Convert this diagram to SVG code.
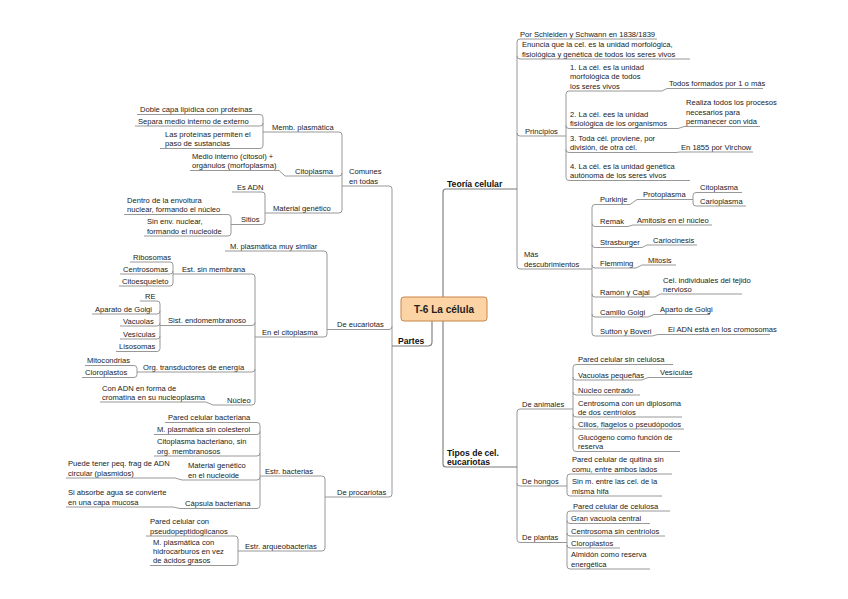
<svg xmlns="http://www.w3.org/2000/svg" width="848" height="599" viewBox="0 0 848 599">
<style>
.t{font-family:"Liberation Sans",Arial,sans-serif;font-size:7.6px;fill:#222}
.m{font-weight:bold;font-size:8.6px;fill:#111}
.u{fill:none;stroke:#8c8c8c;stroke-width:0.9}
.mu{fill:none;stroke:#7a7a7a;stroke-width:1.1}
</style>
<rect width="848" height="599" fill="#fff"/>
<g id="connectors" class="u">
<path class="mu" d="M443,297 V192 Q443,189 446,189"/>
<path class="mu" d="M443,321 V464 Q443,467 446,467"/>
<path class="mu" d="M428,346 Q432,346 432,342 V321"/>
<path d="M520,39 Q517,39 517,42 V266 Q517,269 520,269 M517,56 Q517,59 520,59 M517,133 Q517,136 520,136"/>
<path d="M569,91 Q566,91 566,94 V177.5 Q566,180.5 569,180.5 M566,125.5 Q566,128.5 569,128.5 M566,149.5 Q566,152.5 569,152.5"/>
<path d="M662,91 L667,88.5 M678,128.5 L684,126.5 M676,152.5 L680,152"/>
<path d="M595,204.5 Q592,204.5 592,207.5 V333 Q592,336 595,336 M592,223.5 Q592,226.5 595,226.5 M592,244.5 Q592,247.5 595,247.5 M592,265 Q592,268 595,268 M592,294 Q592,297 595,297 M592,314 Q592,317 595,317"/>
<path d="M630,204.5 L637,199.5 M628,226.5 L633,225 M642,247.5 L647,245 M636,268 L642,265 M655,297 L660,294 M648,317 L654,314.5 M652,336 L658,334.5"/>
<path d="M696,192.5 Q693,192.5 693,195.5 V203 Q693,206 696,206"/>
<path d="M520,409 Q517,409 517,412 V539.5 Q517,542.5 520,542.5 M517,483 Q517,486 520,486"/>
<path d="M576,364.5 Q573,364.5 573,367.5 V448.5 Q573,451.5 576,451.5 M573,377 Q573,380 576,380 M573,392 Q573,395 576,395 M573,414 Q573,417 576,417 M573,426 Q573,429 576,429"/>
<path d="M642,380 L648,377.5"/>
<path d="M570,474 Q567,474 567,477 V493 Q567,496 570,496"/>
<path d="M570,511 Q567,511 567,514 V566 Q567,569 570,569 M567,520.5 Q567,523.5 570,523.5 M567,533 Q567,536 570,536 M567,545 Q567,548 570,548"/>
<path d="M389,186 Q392,186 392,189 V494 Q392,497 389,497 M392,326.5 Q392,329.5 389,329.5"/>
<path d="M339,132 Q342,132 342,135 V210 Q342,213 339,213 M342,173 Q342,176 339,176"/>
<path d="M260,114.5 Q263,114.5 263,117.5 V145.5 Q263,148.5 260,148.5 M263,123 Q263,126 260,126"/>
<path d="M279,170.5 L285,176"/>
<path d="M262,192 Q265,192 265,195 V221.5 Q265,224.5 262,224.5"/>
<path d="M228,214.5 Q231,214.5 231,217.5 V233 Q231,236 228,236"/>
<path d="M324,251 Q327,251 327,254 V334 Q327,337 324,337"/>
<path d="M252,274 Q255,274 255,277 V402 Q255,405 252,405 M255,322.5 Q255,325.5 252,325.5 M255,369 Q255,372 252,372"/>
<path d="M206,402 L213,405"/>
<path d="M170,262 Q173,262 173,265 V283 Q173,286 170,286 M173,271 Q173,274 170,274"/>
<path d="M157,301 Q160,301 160,304 V348.5 Q160,351.5 157,351.5 M160,311 Q160,314 157,314 M160,323 Q160,326 157,326 M160,336 Q160,339 157,339"/>
<path d="M134,365.5 Q137,365.5 137,368.5 V374.5 Q137,377.5 134,377.5"/>
<path d="M322,476 Q325,476 325,479 V548 Q325,551 322,551"/>
<path d="M257,422.5 Q260,422.5 260,425.5 V505.5 Q260,508.5 257,508.5 M260,431.5 Q260,434.5 257,434.5 M260,453 Q260,456 257,456 M260,477 Q260,480 257,480"/>
<path d="M175,478 L182,480 M173,507 L180,508.5"/>
<path d="M235,536 Q238,536 238,539 V562.5 Q238,565.5 235,565.5"/>
</g>
<g id="center">
<rect x="401" y="297" width="86" height="24" rx="3" fill="#fcd3a4" stroke="#c88547" stroke-width="1"/>
<text class="t" x="444" y="313" text-anchor="middle" style="font-weight:bold;font-size:10px;fill:#222">T-6 La célula</text>
</g>
<g id="teoria"><text class="t m" x="447" y="186.5">Teoría celular</text><path class="mu" d="M446,189 H517"/></g>
<g id="schleiden"><text class="t" x="520" y="36.5">Por Schleiden y Schwann en 1838/1839</text><path class="u" d="M520,39 H657"/></g>
<g id="enuncia"><text class="t"><tspan x="522" y="47.3">Enuncia que la cel. es la unidad morfológica,</tspan><tspan x="522" y="56.5">fisiológica y genética de todos los seres vivos</tspan></text><path class="u" d="M520,59 H690"/></g>
<g id="principios"><text class="t" x="525" y="133.5">Principios</text><path class="u" d="M520,136 H566"/></g>
<g id="p1"><text class="t"><tspan x="570" y="70">1. La cél. es la unidad</tspan><tspan x="570" y="79.3">morfológica de todos</tspan><tspan x="570" y="88.5">los seres vivos</tspan></text><path class="u" d="M569,91 H662"/></g>
<g id="todos"><text class="t" x="669" y="86">Todos formados por 1 o más</text><path class="u" d="M667,88.5 H763"/></g>
<g id="p2"><text class="t"><tspan x="570" y="116.8">2. La cél. ees la unidad</tspan><tspan x="570" y="126">fisiológica de los organismos</tspan></text><path class="u" d="M569,128.5 H678"/></g>
<g id="realiza"><text class="t"><tspan x="686" y="105">Realiza todos los procesos</tspan><tspan x="686" y="114.5">necesarios para</tspan><tspan x="686" y="124">permanecer con vida</tspan></text><path class="u" d="M684,126.5 H760"/></g>
<g id="p3"><text class="t"><tspan x="570" y="140.8">3. Toda cél. proviene, por</tspan><tspan x="570" y="150">división, de otra cél.</tspan></text><path class="u" d="M569,152.5 H676"/></g>
<g id="virchow"><text class="t" x="681" y="149.5">En 1855 por Virchow</text><path class="u" d="M680,152 H753"/></g>
<g id="p4"><text class="t"><tspan x="570" y="168.8">4. La cél. es la unidad genética</tspan><tspan x="570" y="178">autónoma de los seres vivos</tspan></text><path class="u" d="M569,180.5 H690"/></g>
<g id="mas"><text class="t"><tspan x="524" y="257.3">Más</tspan><tspan x="524" y="266.5">descubrimientos</tspan></text><path class="u" d="M520,269 H592"/></g>
<g id="purkinje"><text class="t" x="600" y="202">Purkinje</text><path class="u" d="M595,204.5 H630"/></g>
<g id="protoplasma"><text class="t" x="643" y="197">Protoplasma</text><path class="u" d="M637,199.5 H693"/></g>
<g id="citoplasma-r"><text class="t" x="700" y="190">Citoplasma</text><path class="u" d="M696,192.5 H742"/></g>
<g id="carioplasma"><text class="t" x="700" y="203.5">Carioplasma</text><path class="u" d="M696,206 H746"/></g>
<g id="remak"><text class="t" x="600" y="224">Remak</text><path class="u" d="M595,226.5 H628"/></g>
<g id="amitosis"><text class="t" x="637" y="222.5">Amitosis en el núcleo</text><path class="u" d="M633,225 H712"/></g>
<g id="strasburger"><text class="t" x="600" y="245">Strasburger</text><path class="u" d="M595,247.5 H642"/></g>
<g id="cariocinesis"><text class="t" x="653" y="242.5">Cariocinesis</text><path class="u" d="M647,245 H697"/></g>
<g id="flemming"><text class="t" x="600" y="265.5">Flemming</text><path class="u" d="M595,268 H636"/></g>
<g id="mitosis"><text class="t" x="648" y="262.5">Mitosis</text><path class="u" d="M642,265 H676"/></g>
<g id="ramon"><text class="t" x="600" y="294.5">Ramón y Cajal</text><path class="u" d="M595,297 H655"/></g>
<g id="celind"><text class="t"><tspan x="663" y="282.8">Cel. individuales del tejido</tspan><tspan x="663" y="291.5">nervioso</tspan></text><path class="u" d="M660,294 H742"/></g>
<g id="camillo"><text class="t" x="600" y="314.5">Camillo Golgi</text><path class="u" d="M595,317 H648"/></g>
<g id="aparto"><text class="t" x="660" y="312">Aparto de Golgi</text><path class="u" d="M654,314.5 H710"/></g>
<g id="sutton"><text class="t" x="600" y="333.5">Sutton y Boveri</text><path class="u" d="M595,336 H652"/></g>
<g id="eladn"><text class="t" x="668" y="332">El ADN está en los cromosomas</text><path class="u" d="M658,334.5 H770"/></g>
<g id="tipos"><text class="t m"><tspan x="447" y="455.5">Tipos de cel.</tspan><tspan x="447" y="464.5">eucariotas</tspan></text><path class="mu" d="M446,467 H517"/></g>
<g id="animales"><text class="t" x="522" y="406.5">De animales</text><path class="u" d="M520,409 H573"/></g>
<g id="a1"><text class="t" x="578" y="362">Pared celular sin celulosa</text><path class="u" d="M576,364.5 H673"/></g>
<g id="a2"><text class="t" x="578" y="377.5">Vacuolas pequeñas</text><path class="u" d="M576,380 H642"/></g>
<g id="a2b"><text class="t" x="660" y="375">Vesículas</text><path class="u" d="M648,377.5 H692"/></g>
<g id="a3"><text class="t" x="578" y="392.5">Núcleo centrado</text><path class="u" d="M576,395 H640"/></g>
<g id="a4"><text class="t"><tspan x="578" y="405.8">Centrosoma con un diplosoma</tspan><tspan x="578" y="414.5">de dos centríolos</tspan></text><path class="u" d="M576,417 H682"/></g>
<g id="a5"><text class="t" x="578" y="426.5">Cilios, flagelos o pseudópodos</text><path class="u" d="M576,429 H684"/></g>
<g id="a6"><text class="t"><tspan x="578" y="440">Glucógeno como función de</tspan><tspan x="578" y="449">reserva</tspan></text><path class="u" d="M576,451.5 H680"/></g>
<g id="hongos"><text class="t" x="522" y="483.5">De hongos</text><path class="u" d="M520,486 H567"/></g>
<g id="h1"><text class="t"><tspan x="572" y="462.3">Pared celular de quitina sin</tspan><tspan x="572" y="471.5">comu, entre ambos lados</tspan></text><path class="u" d="M570,474 H672"/></g>
<g id="h2"><text class="t"><tspan x="572" y="484.3">Sin m. entre las cel. de la</tspan><tspan x="572" y="493.5">misma hifa</tspan></text><path class="u" d="M570,496 H662"/></g>
<g id="plantas"><text class="t" x="522" y="540">De plantas</text><path class="u" d="M520,542.5 H567"/></g>
<g id="pl1"><text class="t" x="573" y="508.5">Pared celular de celulosa</text><path class="u" d="M570,511 H670"/></g>
<g id="pl2"><text class="t" x="571" y="521">Gran vacuola central</text><path class="u" d="M570,523.5 H650"/></g>
<g id="pl3"><text class="t" x="571" y="533.5">Centrosoma sin centríolos</text><path class="u" d="M570,536 H665"/></g>
<g id="pl4"><text class="t" x="571" y="545.5">Cloroplastos</text><path class="u" d="M570,548 H620"/></g>
<g id="pl5"><text class="t"><tspan x="571" y="557.3">Almidón como reserva</tspan><tspan x="571" y="566.5">energética</tspan></text><path class="u" d="M570,569 H650"/></g>
<g id="partes"><text class="t m" x="398" y="343.5">Partes</text><path class="mu" d="M392,346 H428"/></g>
<g id="comunes"><text class="t"><tspan x="349" y="174.3">Comunes</tspan><tspan x="349" y="183.5">en todas</tspan></text><path class="u" d="M342,186 H389"/></g>
<g id="memb"><text class="t" x="272" y="129.5">Memb. plasmática</text><path class="u" d="M263,132 H339"/></g>
<g id="doble"><text class="t" x="140" y="112">Doble capa lipídica con proteínas</text><path class="u" d="M137,114.5 H260"/></g>
<g id="separa"><text class="t" x="138" y="123.5">Separa medio interno de externo</text><path class="u" d="M135,126 H260"/></g>
<g id="lasprot"><text class="t"><tspan x="165" y="136.8">Las proteínas permiten el</tspan><tspan x="165" y="146">paso de sustancias</tspan></text><path class="u" d="M160,148.5 H260"/></g>
<g id="citoplasma-l"><text class="t" x="295" y="173.5">Citoplasma</text><path class="u" d="M285,176 H339"/></g>
<g id="medio"><text class="t"><tspan x="192" y="158.8">Medio interno (citosol) +</tspan><tspan x="192" y="168">orgánulos (morfoplasma)</tspan></text><path class="u" d="M190,170.5 H279"/></g>
<g id="matgen"><text class="t" x="273" y="210.5">Material genético</text><path class="u" d="M265,213 H339"/></g>
<g id="esadn"><text class="t" x="237" y="189.5">Es ADN</text><path class="u" d="M232,192 H262"/></g>
<g id="sitios"><text class="t" x="241" y="222">Sitios</text><path class="u" d="M231,224.5 H262"/></g>
<g id="dentro"><text class="t"><tspan x="127" y="202.8">Dentro de la envoltura</tspan><tspan x="127" y="212">nuclear, formando el núcleo</tspan></text><path class="u" d="M124,214.5 H228"/></g>
<g id="sinenv"><text class="t"><tspan x="147" y="224.3">Sin env. nuclear,</tspan><tspan x="147" y="233.5">formando el nucleoide</tspan></text><path class="u" d="M144,236 H228"/></g>
<g id="eucariotas"><text class="t" x="337" y="327">De eucariotas</text><path class="u" d="M327,329.5 H389"/></g>
<g id="mplasm"><text class="t" x="230" y="248.5">M. plasmática muy similar</text><path class="u" d="M225,251 H324"/></g>
<g id="encito"><text class="t" x="262" y="334.5">En el citoplasma</text><path class="u" d="M255,337 H324"/></g>
<g id="estsin"><text class="t" x="182" y="271.5">Est. sin membrana</text><path class="u" d="M173,274 H252"/></g>
<g id="ribosomas"><text class="t" x="133" y="259.5">Ribosomas</text><path class="u" d="M130,262 H170"/></g>
<g id="centrosomas"><text class="t" x="123" y="271.5">Centrosomas</text><path class="u" d="M120,274 H170"/></g>
<g id="citoesq"><text class="t" x="122" y="283.5">Citoesqueleto</text><path class="u" d="M119,286 H170"/></g>
<g id="sist"><text class="t" x="168" y="323">Sist. endomembranoso</text><path class="u" d="M160,325.5 H252"/></g>
<g id="re"><text class="t" x="145" y="298.5">RE</text><path class="u" d="M140,301 H157"/></g>
<g id="golgi"><text class="t" x="95" y="311.5">Aparato de Golgi</text><path class="u" d="M92,314 H157"/></g>
<g id="vacuolas"><text class="t" x="123" y="323.5">Vacuolas</text><path class="u" d="M120,326 H157"/></g>
<g id="vesiculas"><text class="t" x="123" y="336.5">Vesículas</text><path class="u" d="M120,339 H157"/></g>
<g id="lisosomas"><text class="t" x="119" y="349">Lisosomas</text><path class="u" d="M116,351.5 H157"/></g>
<g id="org"><text class="t" x="143" y="369.5">Org. transductores de energía</text><path class="u" d="M137,372 H252"/></g>
<g id="mitocondrias"><text class="t" x="87" y="363">Mitocondrias</text><path class="u" d="M85,365.5 H134"/></g>
<g id="cloroplastos"><text class="t" x="85" y="375">Cloroplastos</text><path class="u" d="M82,377.5 H134"/></g>
<g id="nucleo"><text class="t" x="227" y="402.5">Núcleo</text><path class="u" d="M213,405 H252"/></g>
<g id="conadn"><text class="t"><tspan x="102" y="390.8">Con ADN en forma de</tspan><tspan x="102" y="399.5">cromatina en su nucleoplasma</tspan></text><path class="u" d="M100,402 H206"/></g>
<g id="procariotas"><text class="t" x="337" y="494.5">De procariotas</text><path class="u" d="M325,497 H389"/></g>
<g id="estrbact"><text class="t" x="265" y="473.5">Estr. bacterias</text><path class="u" d="M260,476 H322"/></g>
<g id="b1"><text class="t" x="168" y="420">Pared celular bacteriana</text><path class="u" d="M165,422.5 H257"/></g>
<g id="b2"><text class="t" x="157" y="432">M. plasmática sin colesterol</text><path class="u" d="M154,434.5 H257"/></g>
<g id="b3"><text class="t"><tspan x="157" y="444.3">Citoplasma bacteriano, sin</tspan><tspan x="157" y="453.5">org. membranosos</tspan></text><path class="u" d="M154,456 H257"/></g>
<g id="b4"><text class="t"><tspan x="188" y="468.3">Material genético</tspan><tspan x="188" y="477.5">en el nucleoide</tspan></text><path class="u" d="M182,480 H257"/></g>
<g id="b4a"><text class="t"><tspan x="68" y="466.3">Puede tener peq. frag de ADN</tspan><tspan x="68" y="475.5">circular (plasmidos)</tspan></text><path class="u" d="M66,478 H175"/></g>
<g id="b5"><text class="t" x="185" y="506">Cápsula bacteriana</text><path class="u" d="M180,508.5 H257"/></g>
<g id="b5a"><text class="t"><tspan x="68" y="495.3">Si absorbe agua se convierte</tspan><tspan x="68" y="504.5">en una capa mucosa</tspan></text><path class="u" d="M66,507 H173"/></g>
<g id="estrarq"><text class="t" x="245" y="548.5">Estr. arqueobacterias</text><path class="u" d="M238,551 H322"/></g>
<g id="q1"><text class="t"><tspan x="150" y="524.3">Pared celular con</tspan><tspan x="150" y="533.5">pseudopeptidoglicanos</tspan></text><path class="u" d="M146,536 H235"/></g>
<g id="q2"><text class="t"><tspan x="153" y="545">M. plasmática con</tspan><tspan x="153" y="554">hidrocarburos en vez</tspan><tspan x="153" y="563">de ácidos grasos</tspan></text><path class="u" d="M150,565.5 H235"/></g>
</svg>
